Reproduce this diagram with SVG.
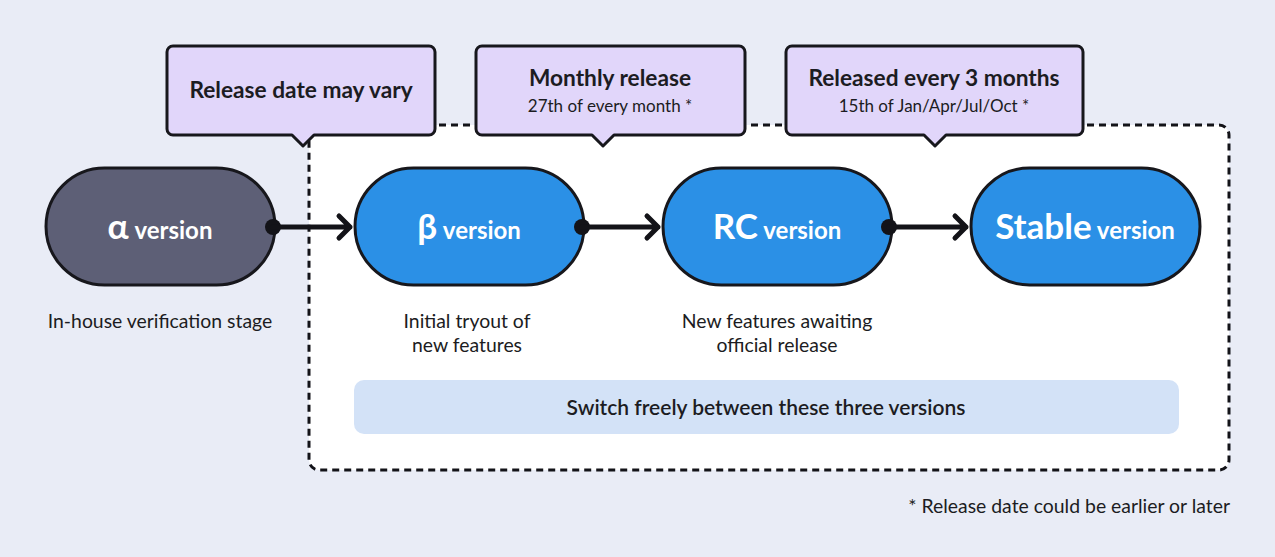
<svg xmlns="http://www.w3.org/2000/svg" width="1275" height="557" viewBox="0 0 1275 557">
<style>
.t{font-family:Lato,"Open Sans","Liberation Sans",sans-serif;fill:#1c1c22}
.call{fill:#E1D6FA;stroke:#17171c;stroke-width:3;stroke-linejoin:round}
.pill{stroke:#17171c;stroke-width:3}
.big{font-size:35px;font-weight:700;fill:#fff}
.sm{font-size:24px;font-weight:700;fill:#fff}
.h{font-size:22.7px;font-weight:700}
.s{font-size:17px}
.lab{font-size:19.4px}
.con{stroke:#131318;stroke-width:5;fill:none;stroke-linecap:round;stroke-linejoin:round}
</style>
<rect width="1275" height="557" fill="#E9ECF6"/>
<rect id="group" x="309" y="125" width="920" height="345" rx="10" fill="#fff" stroke="#131318" stroke-width="3" stroke-dasharray="7 5"/>
<g id="switch">
<rect x="354" y="380" width="825" height="54" rx="10" fill="#D3E2F7"/>
<text class="t" x="766" y="415" font-size="21" font-weight="600" text-anchor="middle">Switch freely between these three versions</text>
</g>
<g id="callout1">
<path class="call" d="M173 46H429a6 6 0 0 1 6 6V129a6 6 0 0 1-6 6H314l-11 11-11-11H173a6 6 0 0 1-6-6V52a6 6 0 0 1 6-6Z"/>
<text class="t h" x="301" y="98" text-anchor="middle">Release date may vary</text>
</g>
<g id="callout2">
<path class="call" d="M482 46H739a6 6 0 0 1 6 6V129a6 6 0 0 1-6 6H614l-11 11-11-11H482a6 6 0 0 1-6-6V52a6 6 0 0 1 6-6Z"/>
<text class="t h" x="610" y="86" text-anchor="middle">Monthly release</text>
<text class="t s" x="610" y="112" text-anchor="middle">27th of every month *</text>
</g>
<g id="callout3">
<path class="call" d="M792 46H1077a6 6 0 0 1 6 6V129a6 6 0 0 1-6 6H946l-11 11-11-11H792a6 6 0 0 1-6-6V52a6 6 0 0 1 6-6Z"/>
<text class="t h" x="934" y="86" text-anchor="middle">Released every 3 months</text>
<text class="t s" x="934" y="112" text-anchor="middle">15th of Jan/Apr/Jul/Oct *</text>
</g>
<g id="alpha">
<rect class="pill" x="46" y="168" width="229" height="117" rx="58.5" fill="#5D5F76"/>
<text class="t" x="160" y="239" text-anchor="middle"><tspan class="big">α</tspan><tspan class="sm"> version</tspan></text>
</g>
<g id="beta">
<rect class="pill" x="355" y="168" width="229" height="117" rx="58.5" fill="#2B90E6"/>
<text class="t" x="469" y="239" text-anchor="middle"><tspan class="big">β</tspan><tspan class="sm"> version</tspan></text>
</g>
<g id="rc">
<rect class="pill" x="663" y="168" width="229" height="117" rx="58.5" fill="#2B90E6"/>
<text class="t" x="777" y="239" text-anchor="middle"><tspan class="big">RC</tspan><tspan class="sm"> version</tspan></text>
</g>
<g id="stable">
<rect class="pill" x="971" y="168" width="229" height="117" rx="58.5" fill="#2B90E6"/>
<text class="t" x="1085" y="239" text-anchor="middle"><tspan class="big" font-size="34">Stable</tspan><tspan class="sm"> version</tspan></text>
</g>
<g id="connectors">
<circle cx="273" cy="227" r="8" fill="#131318"/>
<path class="con" d="M273 227H350M339 216l11 11-11 11"/>
<circle cx="582" cy="227" r="8" fill="#131318"/>
<path class="con" d="M582 227H658M647 216l11 11-11 11"/>
<circle cx="889" cy="227" r="8" fill="#131318"/>
<path class="con" d="M889 227H966M955 216l11 11-11 11"/>
</g>
<g id="labels">
<text class="t lab" x="160" y="328" text-anchor="middle">In-house verification stage</text>
<text class="t lab" x="467" y="328" text-anchor="middle">Initial tryout of</text>
<text class="t lab" x="467" y="352" text-anchor="middle">new features</text>
<text class="t lab" x="777" y="328" text-anchor="middle">New features awaiting</text>
<text class="t lab" x="777" y="352" text-anchor="middle">official release</text>
<text class="t lab" x="1230" y="513" text-anchor="end">* Release date could be earlier or later</text>
</g>
</svg>
